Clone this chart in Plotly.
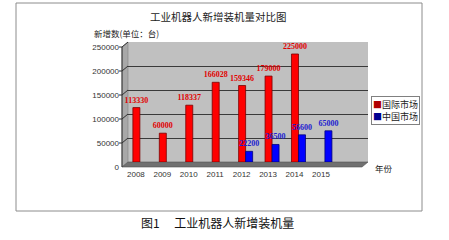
import plotly.graph_objects as go

years = ["2008", "2009", "2010", "2011", "2012", "2013", "2014", "2015"]
intl_market = [113330, 60000, 118337, 166028, 159346, 179000, 225000, None]
china_market = [None, None, None, None, 22200, 36500, 56600, 65000]
intl_labels = ["113330", "60000", "118337", "166028", "159346", "179000", "225000", ""]
china_labels = ["", "", "", "", "22200", "36500", "56600", "65000"]
y_ticks = [0, 50000, 100000, 150000, 200000, 250000]
y_tick_text = ["0", "50000", "100000", "150000", "200000", "250000"]

W, H = 449, 240
L, R, T, B = 128, 368, 42, 162
PW, PH = R - L, B - T


def px(x):
    return (x - L) / PW


def py(y):
    return (B - y) / PH


fig = go.Figure()
fig.add_trace(go.Bar(
    x=years, y=intl_market, name="国际市场",
    marker=dict(color="#ff0000", line=dict(color="#7a0000", width=0.8)),
    text=intl_labels, textposition="outside", constraintext="none", cliponaxis=False,
    textfont=dict(family="Liberation Serif", size=8, color="#e00000", weight="bold"),
))
fig.add_trace(go.Bar(
    x=years, y=china_market, name="中国市场",
    marker=dict(color="#0000ff", line=dict(color="#00007a", width=0.8)),
    text=china_labels, textposition="outside", constraintext="none", cliponaxis=False,
    textfont=dict(family="Liberation Serif", size=8, color="#2020d0", weight="bold"),
))

shapes = []
# outer border
shapes.append(dict(type="rect", xref="paper", yref="paper", x0=px(16), x1=px(422), y0=py(211), y1=py(3),
                   line=dict(color="#8c8c8c", width=1), fillcolor="rgba(0,0,0,0)", layer="below"))
# side wall
shapes.append(dict(type="path", xref="paper", yref="paper",
                   path=f"M {px(122)},{py(167)} L {px(128)},{py(162)} L {px(128)},{py(42)} L {px(122)},{py(47)} Z",
                   fillcolor="#a8a8a8", line=dict(color="#808080", width=0.6), layer="below"))
# floor
shapes.append(dict(type="path", xref="paper", yref="paper",
                   path=f"M {px(122)},{py(167)} L {px(362)},{py(167)} L {px(368)},{py(162)} L {px(128)},{py(162)} Z",
                   fillcolor="#707070", line=dict(color="#505050", width=0.6), layer="below"))
# y axis line
shapes.append(dict(type="line", xref="paper", yref="paper", x0=px(122), x1=px(122), y0=py(167), y1=py(47),
                   line=dict(color="#303030", width=1)))
for t in y_ticks:
    # diagonal gridline on the side wall
    if t > 0:
        shapes.append(dict(type="line", xref="paper", yref="y", ysizemode="pixel", yanchor=t,
                           x0=px(122), x1=px(128), y0=-5, y1=0, line=dict(color="#303030", width=1)))
    # tick mark
    shapes.append(dict(type="line", xref="paper", yref="y", ysizemode="pixel", yanchor=t,
                       x0=px(119), x1=px(122), y0=-5, y1=-5, line=dict(color="#303030", width=1)))

annotations = [
    dict(text="工业机器人新增装机量对比图", xref="paper", yref="paper", x=px(218), y=py(16),
         xanchor="center", yanchor="middle", showarrow=False,
         font=dict(family="Noto Sans CJK SC", size=10.5, color="#222")),
    dict(text="新增数(单位：台)", xref="paper", yref="paper", x=px(92), y=py(33),
         xanchor="left", yanchor="middle", showarrow=False,
         font=dict(family="Noto Sans CJK SC", size=8.5, color="#222")),
    dict(text="年份", xref="paper", yref="paper", x=px(373), y=py(168),
         xanchor="left", yanchor="middle", showarrow=False,
         font=dict(family="Noto Sans CJK SC", size=8.5, color="#222")),
    dict(text='<span style="color:#b00000">■</span>国际市场<br><span style="color:#000090">■</span>中国市场',
         xref="paper", yref="paper", x=px(395), y=py(110), xanchor="center", yanchor="middle",
         showarrow=False, align="left", bordercolor="#808080", borderwidth=1, borderpad=1,
         bgcolor="white", font=dict(family="Noto Sans CJK SC", size=9, color="#222")),
    dict(text="图1　 工业机器人新增装机量", xref="paper", yref="paper", x=px(217), y=py(222),
         xanchor="center", yanchor="middle", showarrow=False,
         font=dict(family="Noto Sans CJK SC", size=12, color="#111")),
]

fig.update_layout(
    width=W, height=H,
    margin=dict(l=L, r=W - R, t=T, b=H - B, pad=0),
    paper_bgcolor="white", plot_bgcolor="#c0c0c0",
    barmode="group", bargap=0.47, bargroupgap=0.0,
    showlegend=False,
    shapes=shapes, annotations=annotations,
    font=dict(family="Liberation Sans", size=8, color="#333"),
    xaxis=dict(type="category", range=[-0.45, 8.63], showgrid=False, showline=False, ticks="",
               tickfont=dict(family="Liberation Sans", size=8, color="#333"),
               ticklabelshift=-4, ticklabelstandoff=6, zeroline=False),
    yaxis=dict(range=[0, 250000], tickvals=y_ticks, ticktext=y_tick_text, showgrid=True,
               gridcolor="#3a3a3a", gridwidth=1, showline=False, ticks="", zeroline=False,
               tickfont=dict(family="Liberation Sans", size=8, color="#333"),
               ticklabelshift=5, ticklabelstandoff=8),
)

fig.write_html("out.html")
